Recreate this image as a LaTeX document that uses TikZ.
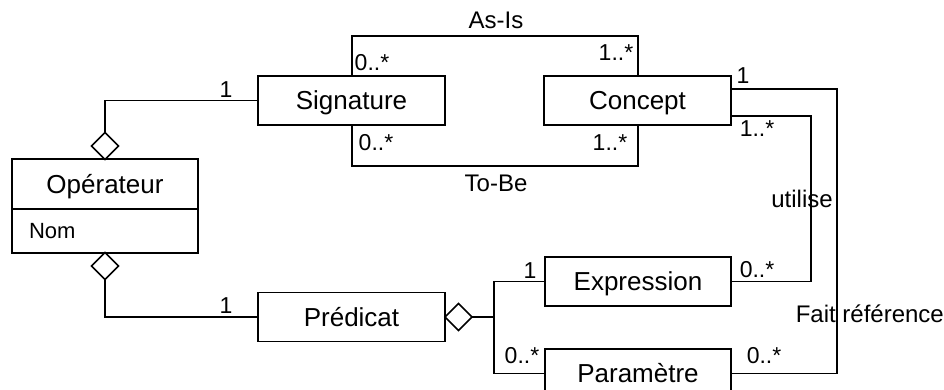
\documentclass[tikz,border=0pt]{standalone}
\usepackage{fontspec}
\setmainfont{Liberation Sans}
\usetikzlibrary{shapes.geometric}
\begin{document}
\begin{tikzpicture}[x=1pt,y=-1pt,line width=1.5pt,
  cls/.style={draw,minimum width=187pt,minimum height=49pt,inner sep=0pt,outer sep=0pt,
    font=\fontsize{26}{30}\selectfont,text height=18.7pt,text depth=0pt},
  agg/.style={draw,diamond,minimum width=27pt,minimum height=27pt,inner sep=0pt,outer sep=0pt,fill=white},
  mult/.style={font=\fontsize{23}{27}\selectfont,inner sep=0pt,anchor=base},
  lbl/.style={font=\fontsize{24}{28}\selectfont,inner sep=0pt,anchor=base}]
\useasboundingbox (0,0) rectangle (944,390);
\clip (0,0) rectangle (944,390);
% classes
\node[cls] (sig) at (351.5,100.5) {Signature};
\node[cls] (con) at (637.5,100.5) {Concept};
\node[cls] (pred) at (351.5,317) {Prédicat};
\node[cls,minimum width=186pt] (expr) at (638,281.5) {Expression};
\node[cls,minimum width=186pt] (param) at (638,373.5) {Paramètre};
\node[cls,minimum width=186pt,minimum height=50pt] (opname) at (105,184) {Opérateur};
\node[draw,anchor=north,minimum width=186pt,minimum height=44pt,inner ysep=0pt,inner xsep=17pt,
  text width=152pt,align=left,font=\fontsize{22}{26}\selectfont,text height=15.8pt,text depth=0pt,outer sep=0pt]
  (opattr) at (opname.south) {Nom};
% aggregation diamonds
\node[agg] (d1) at (105,146) {};
\node[agg] (d2) at (105,266) {};
\node[agg,anchor=west] (d3) at (pred.east) {};
\coordinate (j) at (494,317);
% connectors
\draw (d1.north) |- (sig.west);
\draw (d2.south) |- (pred.west);
\draw (d3.east) -- (j);
\draw (expr.west) -| (j);
\draw (param.west) -| (j);
\draw ([xshift=-93pt]sig.north east) -- ++(0,-40) -| ([xshift=-93pt]con.north east);
\draw ([xshift=-93pt]sig.south east) -- ++(0,41) -| ([xshift=-93pt]con.south east);
\draw ([yshift=11.5pt]con.east) -| ([xshift=106pt]param.east) -- (param.east);
\draw ([yshift=-15.5pt]con.east) -| ([xshift=80pt]expr.east) -- (expr.east);
% labels
\node[mult] (m1) at (226,98) {1};
\node[mult] (m2) at (226,313) {1};
\node[lbl] (asis) at (496,29) {As-Is};
\node[lbl] (tobe) at (496,192) {To-Be};
\node[mult] (m3) at (372,71) {0..*};
\node[mult] (m4) at (616,61) {1..*};
\node[mult] (m5) at (376,151) {0..*};
\node[mult] (m6) at (610,151) {1..*};
\node[mult] (m7) at (743,84) {1};
\node[mult] (m8) at (757,137) {1..*};
\node[lbl] (util) at (802,207) {utilise};
\node[mult] (m9) at (757,277) {0..*};
\node[mult] (m10) at (530,278) {1};
\node[mult] (m11) at (522,363) {0..*};
\node[mult] (m12) at (764,363) {0..*};
\node[lbl,anchor=base west] (fait) at (795,322) {Fait référence};
\end{tikzpicture}
\end{document}
